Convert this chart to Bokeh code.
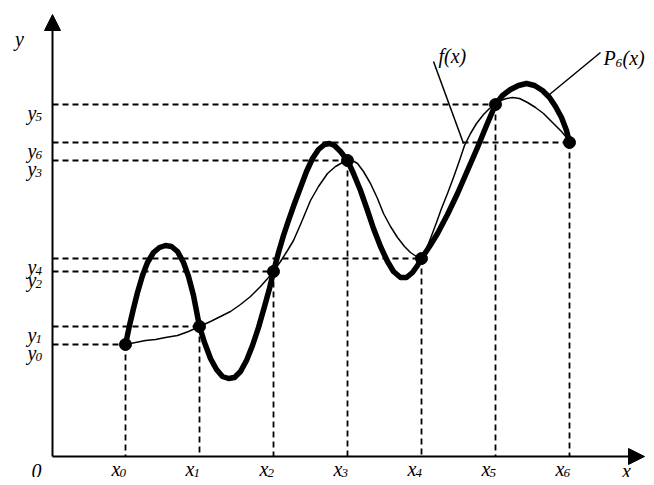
from bokeh.plotting import figure
from bokeh.models import Range1d, Arrow, NormalHead
from bokeh.core.properties import value
from bokeh.embed import file_html
from bokeh.resources import INLINE

# interpolation nodes
node_x = [73, 147, 221, 295, 369, 443, 517]
node_y = [112, 130, 185, 296, 198, 352, 314]
node_sub = ["0", "1", "2", "3", "4", "5", "6"]

# P6(x) - thick curve
p6_x = [73, 77, 81, 85, 90, 95, 101, 107, 113, 119, 125, 131, 136, 141, 147,
        152, 158, 164, 170, 176, 182, 188, 194, 200, 206, 212, 217, 221,
        226, 231, 236, 242, 248, 254, 260, 266, 272, 277, 282, 288, 295,
        301, 308, 315, 321, 328, 335, 341, 348, 354, 360, 365, 369,
        377, 385, 395, 405, 415, 425, 434, 443,
        450, 458, 466, 474, 482, 490, 497, 503, 509, 514, 517]
p6_y = [112, 131, 148, 164, 181, 194, 204, 209, 211, 210, 205, 194, 180, 161, 130,
        114, 98, 87, 80, 78, 79, 85, 96, 111, 129, 150, 168, 185,
        204, 221, 236, 253, 269, 285, 298, 307, 312, 313, 311, 305, 296,
        283, 266, 246, 228, 210, 195, 185, 179, 179, 184, 191, 198,
        210, 223, 242, 263, 286, 309, 331, 352,
        361, 367, 371, 373, 371, 366, 359, 350, 339, 326, 314]

# f(x) - thin curve
f_x = [73, 83, 93, 103, 113, 125, 136, 147, 158, 168, 178, 188, 198, 208, 216, 221,
       228, 235, 241, 248, 253, 258, 266, 275, 283, 290, 295, 300, 305, 311,
       318, 325, 331, 338, 345, 352, 358, 364, 369,
       374, 378, 384, 389, 395, 401, 407, 412, 418, 424, 431, 437, 443,
       448, 454, 460, 467, 475, 483, 491, 498, 504, 509, 514, 517]
f_y = [112, 114, 116, 117, 119, 121, 125, 130, 135, 140, 145, 152, 160, 170, 179, 185,
       195, 206, 216, 232, 244, 256, 270, 283, 290, 294, 296, 296, 293, 285,
       273, 258, 243, 230, 219, 210, 204, 200, 198,
       208, 218, 234, 248, 263, 279, 296, 311, 323, 333, 342, 348, 352,
       356, 358, 359, 358, 354, 349, 343, 336, 330, 325, 319, 314]

x_axis_end = 592
y_axis_end = 442

p = figure(width=646, height=477, x_range=Range1d(-52, 594), y_range=Range1d(-21, 456),
           output_backend="svg", toolbar_location=None, min_border=0,
           x_axis_location=None, y_axis_location=None)
p.grid.visible = False
p.outline_line_color = None
p.background_fill_color = "white"
p.border_fill_color = "white"

zeros = [0] * len(node_x)
p.segment(x0=zeros, y0=node_y, x1=node_x, y1=node_y, line_color="black",
          line_width=1.8, line_dash="6 4")
p.segment(x0=node_x, y0=node_y, x1=node_x, y1=zeros, line_color="black",
          line_width=1.8, line_dash="6 4")

# axes with arrows
head = dict(size=16, fill_color="black", line_color="black")
p.add_layout(Arrow(end=NormalHead(**head), x_start=0, y_start=0, x_end=0, y_end=y_axis_end,
                   line_width=2, line_color="black"))
p.add_layout(Arrow(end=NormalHead(**head), x_start=0, y_start=0, x_end=x_axis_end, y_end=0,
                   line_width=2, line_color="black"))

p.line(f_x, f_y, line_color="black", line_width=1.5, line_join="round")
p.line(p6_x, p6_y, line_color="black", line_width=5.5, line_join="round", line_cap="round")
p.scatter(node_x, node_y, size=12, color="black")

# leader lines
p.segment(x0=[381, 548], y0=[395, 404], x1=[411, 497], y1=[313, 362],
          line_color="black", line_width=1.5)

font = value("Liberation Serif")
main = dict(text_font=font, text_font_style="italic", text_font_size="20px",
            text_color="black", text_baseline="alphabetic")
sub = dict(text_font=font, text_font_style="italic", text_font_size="13px",
           text_color="black", text_baseline="alphabetic")

# y tick labels
p.text(x=[-16] * 7, y=[v - 8 for v in node_y], text=["y"] * 7, text_align="right", **main)
p.text(x=[-17] * 7, y=[v - 12 for v in node_y], text=node_sub, text_align="left", **sub)

# x tick labels
p.text(x=[v - 5 for v in node_x], y=[-12] * 7, text=["x"] * 7, text_align="right", **main)
p.text(x=[v - 6 for v in node_x], y=[-16] * 7, text=node_sub, text_align="left", **sub)

# axis names and origin
p.text(x=[-16], y=[-14], text=["0"], text_align="center", **main)
p.text(x=[574], y=[-14], text=["x"], text_align="center", **main)
p.text(x=[-33], y=[418], text=["y"], text_align="center", **main)

# curve labels
p.text(x=[386], y=[401], text=["f(x)"], text_align="left", **main)
p.text(x=[551], y=[399], text=["P"], text_align="left", **main)
p.text(x=[563], y=[394], text=["6"], text_align="left", **sub)
p.text(x=[570], y=[399], text=["(x)"], text_align="left", **main)

open("out.html", "w").write(file_html(p, INLINE))
